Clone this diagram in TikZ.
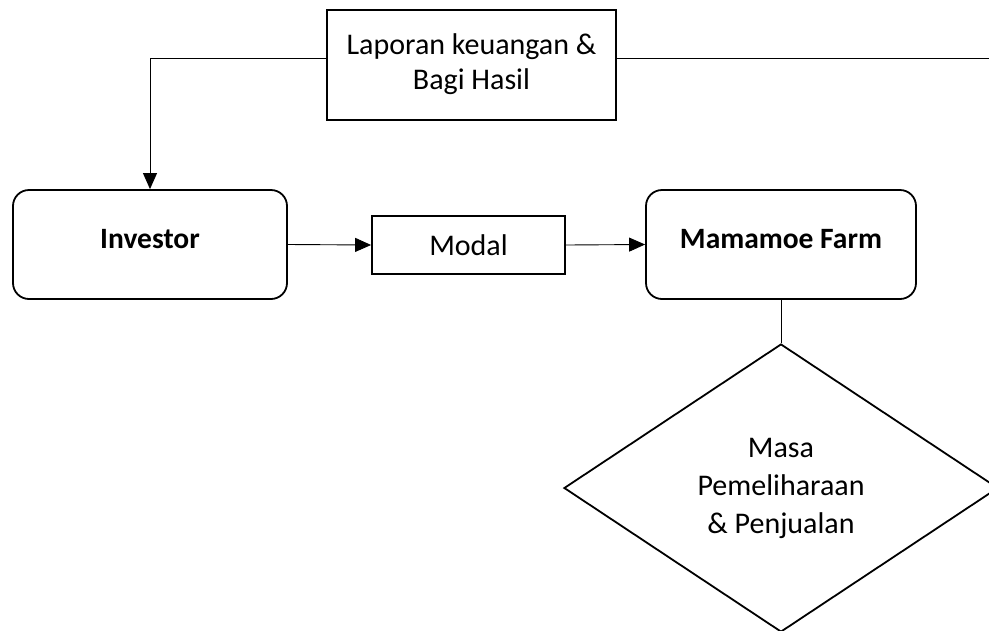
\documentclass[tikz,border=0pt]{standalone}
\usepackage{fontspec}
\setmainfont{Carlito}
\usetikzlibrary{shapes.geometric,arrows.meta}
\begin{document}
\begin{tikzpicture}[x=1pt,y=-1pt,
  box/.style={draw, line width=1.8pt, align=center, inner sep=0pt,
    font=\fontsize{30}{35}\selectfont},
  rbox/.style={box, rounded corners=16pt, font=\bfseries\fontsize{29.5}{35}\selectfont},
  conn/.style={line width=0.9pt},
  arr/.style={conn, -{Triangle[length=16pt,width=14pt]}}]
\useasboundingbox (0,0) rectangle (989,630);
\node[box, minimum width=289pt, minimum height=110pt] (lap) at (471.5,65)
  {\raisebox{3pt}{\begin{tabular}{@{}c@{}}Laporan keuangan \&\\Bagi Hasil\end{tabular}}};
\node[rbox, minimum width=274pt, minimum height=109pt] (inv) at (150,244.5)
  {\raisebox{12pt}{Investor}};
\node[box, minimum width=193pt, minimum height=58pt] (mod) at (468.5,245) {\raisebox{-2pt}{Modal}};
\node[rbox, minimum width=270pt, minimum height=109pt] (mam) at (781,244.5)
  {\raisebox{12pt}{Mamamoe Farm}};
\node[diamond, draw, line width=1.8pt, minimum width=434pt, minimum height=288pt,
  inner sep=0pt, align=center, font=\fontsize{30}{38}\selectfont] (dia) at (781,488)
  {Masa\\Pemeliharaan\\\& Penjualan};
\coordinate (re) at (995,58);
\draw[arr] ([yshift=7pt]lap.west) -| (inv.north);
\draw[conn] ([yshift=7pt]lap.east) -- (re);
\draw[arr] (inv.east) -- (mod.west);
\draw[arr] (mod.east) -- (mam.west);
\draw[conn] (mam.south) -- (dia.north);
\end{tikzpicture}
\end{document}
